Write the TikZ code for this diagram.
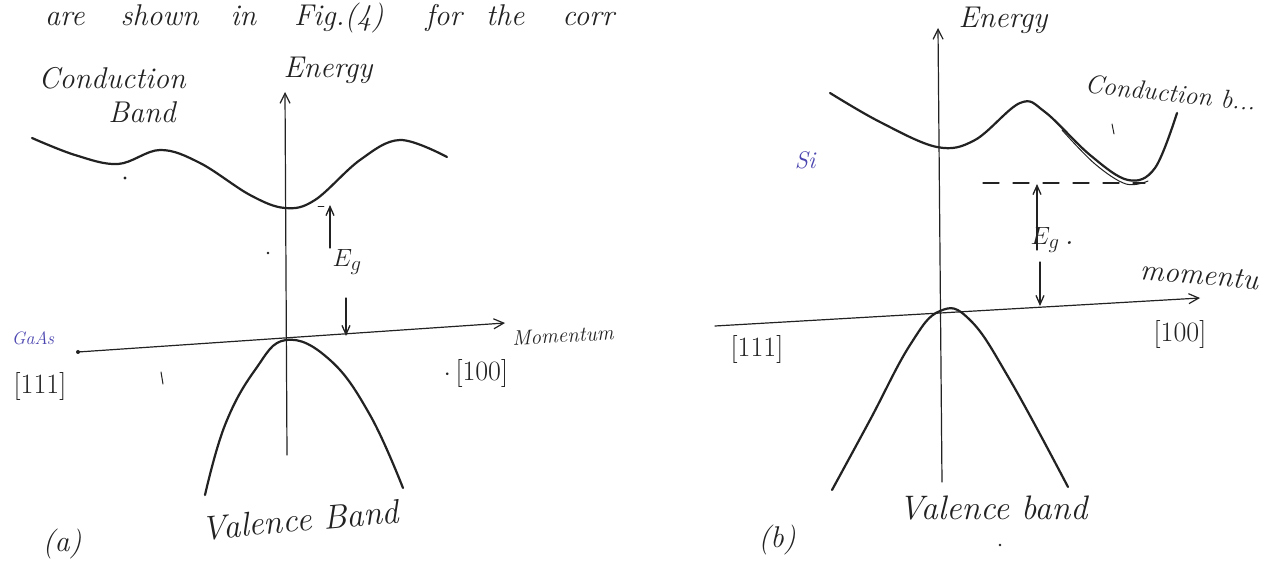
\documentclass[tikz,border=0pt]{standalone}
\usepackage{fontspec}
\usetikzlibrary{arrows.meta}
\definecolor{inkc}{HTML}{222222}
\definecolor{bluec}{HTML}{4B45B0}
\begin{document}
\begin{tikzpicture}[x=1pt,y=-1pt,
  ink/.style={draw=inkc, line width=1.3pt, line cap=round, line join=round},
  band/.style={draw=inkc, line width=2.2pt, line cap=round, line join=round},
  axis/.style={draw=inkc, line width=1.2pt, line cap=round, -{Straight Barb[length=10pt,width=10pt]}},
  egarrow/.style={ink, -{Straight Barb[length=9pt,width=8pt]}},
  lbl/.style={text=inkc, font=\fontsize{30}{32}\selectfont\itshape, inner sep=0pt},
  bluelbl/.style={lbl, text=bluec},
  stray/.style={fill=inkc, draw=none},
]
\useasboundingbox (0,0) rectangle (1267,561);
\clip (0,0) rectangle (1267,561);
\fill[white] (0,0) rectangle (1267,561);

% top cut text
\node[lbl, font=\fontsize{30}{32}\selectfont\itshape, anchor=base west] (top) at (45,26) {are\hspace{36pt}shown\hspace{32pt}in\hspace{38pt}Fig.(4)\hspace{42pt}for\hspace{24pt}the\hspace{38pt}corr};

% ---------------- panel (a) ----------------
\coordinate (aEbot) at (287,455);
\coordinate (aEtop) at (285,92);
\draw[axis] (aEbot) -- (aEtop);
\coordinate (aMl) at (78,352);
\coordinate (aMr) at (505,323);
\draw[axis] (aMl) -- (aMr);
\fill[inkc] (aMl) circle (2pt);

\draw[band] plot[smooth, tension=0.6] coordinates {(32,138) (75,155) (118,164) (160,150) (200,163) (250,195) (285,208) (315,200) (360,160) (400,140) (447,157)};
\draw[band] plot[smooth, tension=0.7] coordinates {(205,495) (225,425) (255,370) (286,340) (330,360) (370,415) (403,488)};

\coordinate (aUp0) at (330,248);
\coordinate (aUp1) at (330,205);
\draw[egarrow] (aUp0) -- (aUp1);
\coordinate (aDn0) at (346,298);
\coordinate (aDn1) at (346,336);
\draw[egarrow] (aDn0) -- (aDn1);
\draw[ink, line width=0.8pt] (318,206) -- (324,206);

\node[lbl] (aEnergy) at (328,70) {Energy};
\node[lbl] (aCond) at (112,78) {Conduction};
\node[lbl] (aBand) at (142,112) {Band};
\node[lbl] (aEg) at (347,262) {$E_g$};
\node[lbl, font=\fontsize{21}{22}\selectfont\itshape, anchor=west, rotate=3] (aMom) at (512,338) {Momentum};
\node[lbl, font=\fontsize{28}{30}\selectfont] (a100) at (476,374) {$\cdot$\,[100]};
\node[lbl, font=\fontsize{28}{30}\selectfont] (a111) at (40,386) {[111]};
\node[bluelbl, font=\fontsize{18}{19}\selectfont\itshape] (aGaAs) at (33,338) {GaAs};
\node[lbl, font=\fontsize{34}{36}\selectfont\itshape, rotate=5] (aVal) at (300,520) {Valence Band};
\node[lbl] (aLab) at (62,544) {(a)};
\fill[stray] (125,178) circle (1.6pt);
\fill[stray] (268,253) circle (1.3pt);
\draw[ink, line width=1pt] (161,372) -- (163,384);

% ---------------- panel (b) ----------------
\coordinate (bEbot) at (942,482);
\coordinate (bEtop) at (938,28);
\draw[axis] (bEbot) -- (bEtop);
\coordinate (bMl) at (715,326);
\coordinate (bMr) at (1200,298);
\draw[axis] (bMl) -- (bMr);

\draw[band] plot[smooth, tension=0.6] coordinates {(830,93) (880,122) (937,147) (975,140) (1020,103) (1045,112) (1090,155) (1128,180) (1155,168) (1177,113)};
\draw[ink, line width=1pt] plot[smooth, tension=0.6] coordinates {(1062,130) (1095,164) (1126,184) (1148,181)};
\draw[ink, line width=1pt] (1112,124) -- (1114,134);
\draw[band] plot[smooth, tension=0.7] coordinates {(832,490) (870,420) (910,345) (940,311) (970,320) (1010,380) (1068,487)};

\coordinate (bDash0) at (983,183);
\coordinate (bDash1) at (1145,183);
\draw[ink, dash pattern=on 16pt off 14pt] (bDash0) -- (bDash1);
\coordinate (bUp0) at (1037,250);
\coordinate (bUp1) at (1037,184);
\draw[egarrow] (bUp0) -- (bUp1);
\coordinate (bDn0) at (1040,262);
\coordinate (bDn1) at (1040,306);
\draw[egarrow] (bDn0) -- (bDn1);

\node[lbl] (bEnergy) at (1003,20) {Energy};
\node[lbl, font=\fontsize{26}{28}\selectfont\itshape, rotate=-6, anchor=west] (bCond) at (1085,84) {Conduction b...};
\node[bluelbl, font=\fontsize{24}{26}\selectfont\itshape] (bSi) at (805,160) {Si};
\node[lbl] (bEg) at (1052,240) {$E_g$\,.};
\node[lbl, rotate=-5, anchor=west] (bMom) at (1140,270) {momentu};
\node[lbl, font=\fontsize{28}{30}\selectfont] (b100) at (1180,335) {[100]};
\node[lbl, font=\fontsize{28}{30}\selectfont] (b111) at (757,350) {[111]};
\node[lbl, font=\fontsize{34}{36}\selectfont\itshape] (bVal) at (993,508) {Valence band};
\node[lbl] (bLab) at (777,540) {(b)};
\fill[stray] (1000,545) circle (1.3pt);
\end{tikzpicture}
\end{document}
